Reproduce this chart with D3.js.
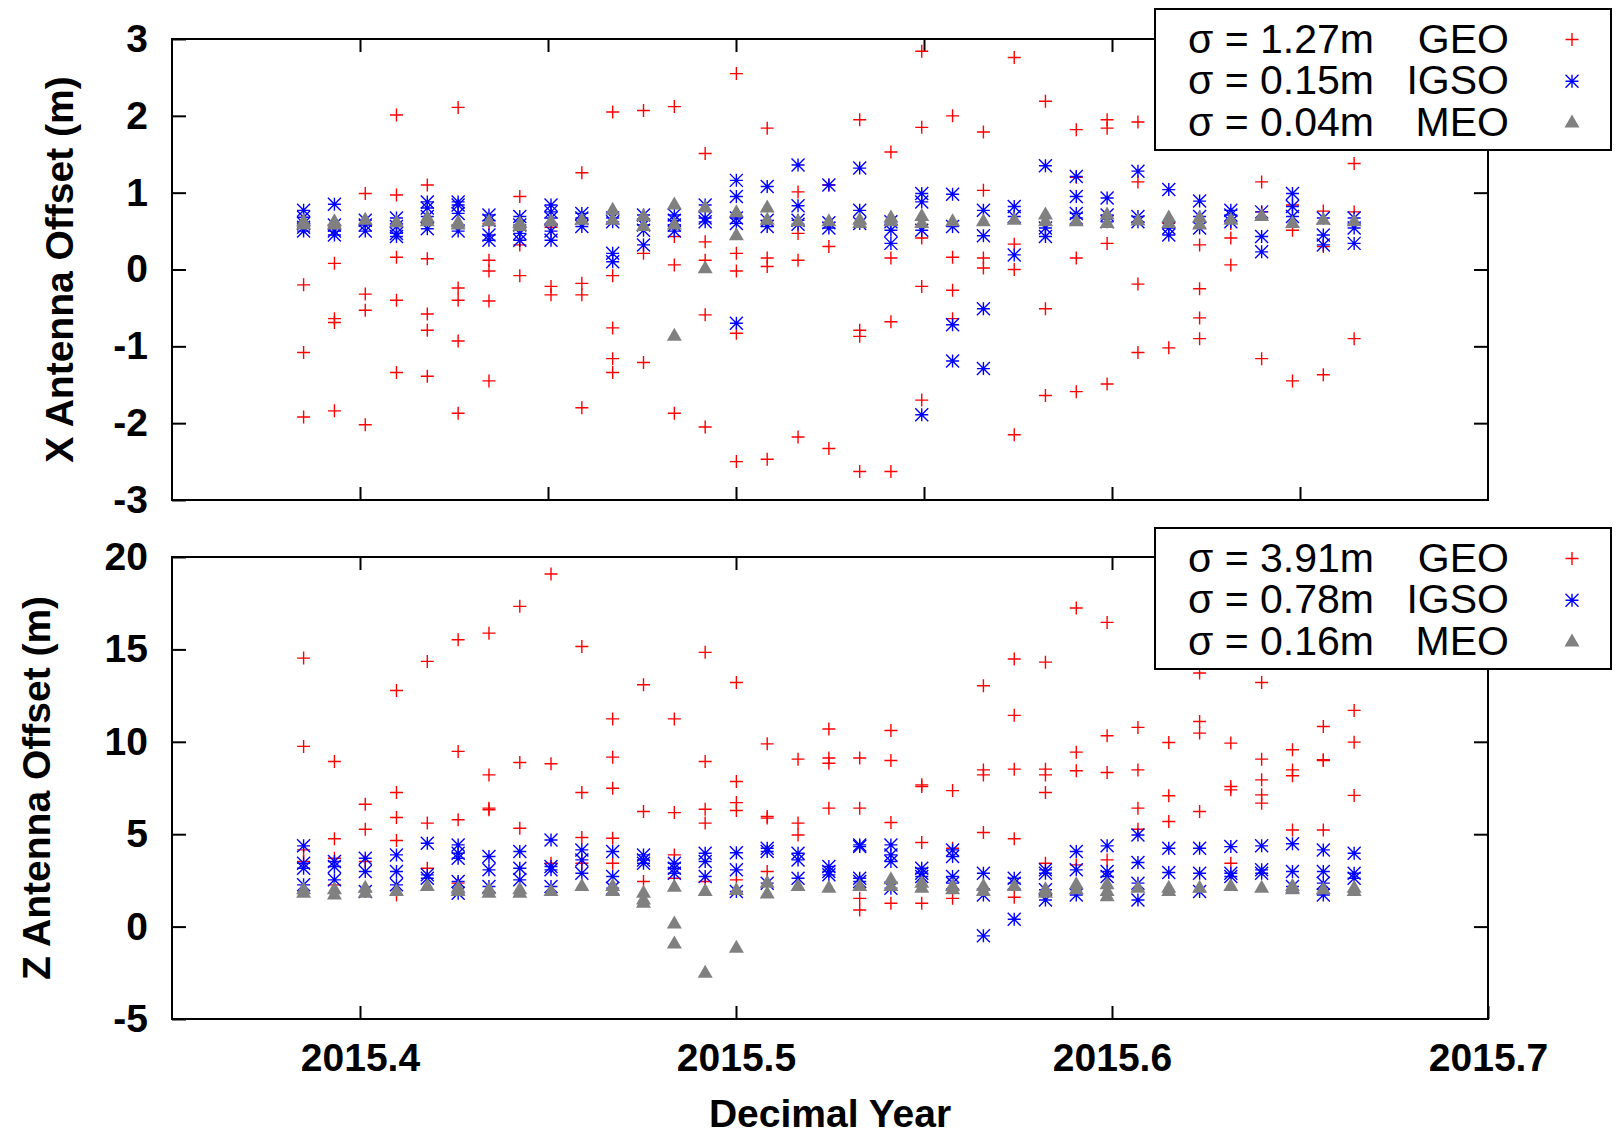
<!DOCTYPE html>
<html lang="en">
<head>
    <meta charset="utf-8">
    <title>Antenna offsets</title>
    <script src="https://d3js.org/d3.v7.js"></script>
    <style>
        body { margin: 0; background: #fff; }
        .tick text { font-family: "Liberation Sans", Arial, sans-serif; font-weight: bold; font-size: 39px; fill: #000; }
        .tick line { stroke: #000; stroke-width: 2px; }
        .title { font-family: "Liberation Sans", Arial, sans-serif; font-weight: bold; font-size: 39px; }
        .key text { font-family: "Liberation Sans", Arial, sans-serif; font-size: 41px; }
    </style>
</head>
<body>
<svg width="1618" height="1137"></svg>
<script type="text/javascript">
    // one column every 3 days
    let years = [2015.3850, 2015.3932, 2015.4014, 2015.4097, 2015.4179, 2015.4261, 2015.4343,
        2015.4425, 2015.4508, 2015.4590, 2015.4672, 2015.4754, 2015.4836, 2015.4918, 2015.5001,
        2015.5083, 2015.5165, 2015.5247, 2015.5329, 2015.5412, 2015.5494, 2015.5576, 2015.5658,
        2015.5740, 2015.5823, 2015.5905, 2015.5987, 2015.6069, 2015.6151, 2015.6233, 2015.6316,
        2015.6398, 2015.6480, 2015.6562, 2015.6644];

    // X offsets (m), one list per column
    let xGeo = [[0.60, -0.20, -1.08, -1.92], [0.55, 0.08, -0.64, -0.69, -1.84], [0.99, -0.32, -0.53, -2.02],
        [2.01, 0.97, 0.16, -0.40, -1.34], [1.10, 0.14, -0.58, -0.79, -1.39], [2.11, -0.24, -0.40, -0.93, -1.87],
        [0.60, 0.12, -0.02, -0.41, -1.45], [0.95, 0.55, 0.32, -0.08], [0.55, -0.22, -0.33],
        [1.26, -0.18, -0.33, -1.80], [2.05, -0.08, -0.76, -1.16, -1.34], [2.07, 0.21, -1.21],
        [2.12, 0.43, 0.06, -1.87], [1.51, 0.36, 0.12, -0.59, -2.05], [2.55, 0.21, -0.02, -0.83, -2.50],
        [1.84, 0.15, 0.04, -2.47], [1.01, 0.47, 0.12, -2.18], [1.10, 0.30, -2.33],
        [1.95, -0.79, -0.87, -2.63], [1.53, 0.15, -0.68, -2.63], [2.84, 1.85, 0.41, -0.22, -1.70],
        [2.00, 0.16, -0.27, -0.64], [1.79, 1.03, 0.15, 0.02], [2.76, 0.33, 0.00, -2.15],
        [2.19, -0.51, -1.64], [1.82, 1.20, 0.15, -1.59], [1.95, 1.84, 0.34, -1.49],
        [1.92, 1.14, -0.19, -1.08], [0.60, -1.02], [0.32, -0.25, -0.63, -0.90], [0.60, 0.41, 0.06],
        [1.14, 0.75, -1.16], [0.84, 0.51, -1.45], [0.76, 0.30, -1.37], [1.38, 0.75, -0.90]];

    let xIgso = [[0.77, 0.68, 0.60, 0.55, 0.50], [0.85, 0.58, 0.50, 0.45], [0.64, 0.58, 0.50],
        [0.67, 0.56, 0.47, 0.43], [0.88, 0.80, 0.69, 0.53], [0.88, 0.84, 0.73, 0.50],
        [0.71, 0.64, 0.45, 0.38], [0.69, 0.58, 0.47, 0.38], [0.84, 0.75, 0.67, 0.50, 0.38],
        [0.73, 0.67, 0.56], [0.21, 0.10, 0.67, 0.62], [0.71, 0.58, 0.51, 0.32], [0.71, 0.64, 0.58, 0.50],
        [0.84, 0.67, 0.62], [1.16, 0.95, 0.67, 0.60, -0.70], [1.08, 0.64, 0.56], [1.36, 0.83, 0.64, 0.59],
        [1.10, 0.61, 0.54], [1.32, 0.77, 0.60], [0.62, 0.51, 0.34], [0.99, 0.88, 0.51, -1.89],
        [0.98, 0.56, -0.72, -1.19], [0.77, 0.44, -0.51, -1.29], [0.82, 0.69, 0.19], [1.35, 0.54, 0.43],
        [1.21, 0.95, 0.73, 0.67], [0.93, 0.71, 0.62], [1.28, 0.69, 0.62], [1.04, 0.54, 0.45],
        [0.89, 0.69, 0.54], [0.77, 0.71, 0.62], [0.75, 0.43, 0.23], [0.99, 0.82, 0.69],
        [0.67, 0.45, 0.32], [0.67, 0.54, 0.34]];

    let xMeo = [[0.58, 0.62], [0.62, 0.58], [0.64], [0.61], [0.67, 0.62], [0.61, 0.58], [0.62],
        [0.60, 0.56], [0.62], [0.64], [0.77, 0.64], [0.69, 0.56], [0.84, 0.58, -0.87], [0.80, 0.01],
        [0.74, 0.44], [0.80, 0.64], [0.62], [0.62], [0.64, 0.60], [0.67, 0.62], [0.69, 0.60], [0.62],
        [0.62], [0.64], [0.71, 0.62], [0.62], [0.71, 0.60], [0.63], [0.67, 0.60], [0.67, 0.58],
        [0.64], [0.69], [0.60], [0.64], [0.62]];

    // Z offsets (m)
    let zGeo = [[14.53, 9.75, 4.15, 3.52], [8.93, 4.75, 3.70, 2.26], [6.62, 5.27, 3.52],
        [12.78, 7.26, 5.90, 4.66, 1.71], [14.35, 5.60, 3.16], [15.52, 9.48, 5.78, 2.35],
        [15.88, 8.21, 6.41, 6.32], [17.33, 8.88, 5.32], [19.08, 8.81, 3.43], [15.16, 7.26, 4.82, 3.43],
        [11.24, 9.17, 7.49, 4.78, 3.43], [13.09, 6.23, 2.44], [11.24, 6.17, 3.88, 2.62],
        [14.84, 8.93, 6.35, 5.60, 2.44], [13.21, 7.85, 6.71, 6.28, 2.53], [9.89, 5.96, 5.87, 2.98],
        [9.06, 5.60, 4.96], [10.69, 9.12, 8.84, 6.41], [9.12, 6.41, 1.53, 0.90], [10.61, 8.99, 5.63, 1.26],
        [7.67, 7.58, 4.55, 1.26], [7.36, 4.24, 1.53], [13.03, 8.48, 8.21, 5.09],
        [14.48, 11.43, 8.52, 4.75, 1.59], [14.31, 8.52, 8.21, 7.26, 3.43], [17.24, 9.44, 8.43, 3.34],
        [16.46, 10.33, 8.34, 3.61], [10.78, 8.48, 6.41, 5.27], [9.96, 7.08, 5.69],
        [13.72, 11.10, 10.47, 6.23], [9.93, 7.58, 7.40, 3.43], [13.21, 9.06, 7.94, 7.13, 6.68],
        [9.57, 8.48, 8.16, 5.23], [10.83, 9.03, 8.99, 5.23], [11.70, 9.98, 7.10]];

    let zIgso = [[4.37, 3.43, 3.16, 2.26], [3.52, 3.25, 2.53], [3.70, 2.98, 1.90], [3.88, 2.98, 2.26],
        [4.51, 2.80, 2.62], [4.42, 3.97, 3.70, 2.44, 1.81], [3.79, 3.07, 2.17], [4.06, 3.16, 2.53],
        [4.69, 3.25, 3.07, 2.17], [4.15, 3.61, 2.89], [4.06, 2.71, 2.08], [3.88, 3.61, 3.43],
        [3.43, 3.16, 2.89], [3.97, 3.52, 2.71], [4.00, 3.07, 1.90], [4.24, 4.06, 2.35],
        [3.97, 3.61, 2.62], [3.25, 2.98, 2.80], [4.42, 4.33, 2.62, 2.44], [4.42, 3.88, 3.52, 2.08],
        [3.16, 2.89, 2.71], [4.15, 3.79, 2.71, 2.35], [2.89, 1.71, -0.50], [2.62, 2.35, 0.40],
        [3.07, 2.89, 1.99, 1.44], [4.06, 3.07, 1.71], [4.37, 2.98, 2.71], [4.96, 3.47, 2.35, 1.44],
        [4.24, 2.93], [4.24, 2.89, 1.90], [4.33, 2.89, 2.71], [4.37, 3.07, 2.89], [4.48, 2.98, 2.17],
        [4.15, 2.98, 2.35, 1.71], [3.97, 2.89, 2.62]];

    let zMeo = [[1.99, 1.81], [1.99, 1.71], [2.08, 1.81], [1.90], [2.17], [2.08, 1.90], [1.99, 1.81],
        [1.99, 1.81], [1.90], [2.17], [2.17, 1.90], [1.81, 1.44, 1.26], [2.13, 0.14, -0.94],
        [1.90, -2.53], [1.95, -1.17], [2.35, 1.77], [2.17], [2.08], [2.17], [2.53, 2.17],
        [2.35, 2.08], [2.17, 1.99], [2.17, 1.90], [2.17], [1.99, 1.81], [2.26, 1.99],
        [2.26, 1.90, 1.62], [2.08], [2.08, 1.90], [2.08], [2.17], [2.08], [2.17, 1.99], [1.99],
        [2.08, 1.90]];

    let xSigma = ["1.27", "0.15", "0.04"];
    let zSigma = ["3.91", "0.78", "0.16"];
    let names = ["GEO", "IGSO", "MEO"];

    let svg = d3.select("svg");
    let left = 172, right = 1488;

    let x = d3.scaleLinear().domain([2015.35, 2015.7]).range([left, right]);

    // marker shapes, gnuplot style
    let markers = {
        GEO: {d: "M-6.5,0H6.5M0,-6.5V6.5", stroke: "#ff0000", fill: "none"},
        IGSO: {d: "M-6.5,0H6.5M0,-6.5V6.5M-6.5,-6.5L6.5,6.5M-6.5,6.5L6.5,-6.5", stroke: "#0000ff", fill: "none"},
        MEO: {d: "M0,-8.5L7.5,4.5L-7.5,4.5Z", stroke: "none", fill: "#808080"}
    };

    function flatten(cols) {
        let pts = [];
        cols.forEach(function (col, i) {
            col.forEach(function (v) { pts.push({t: years[i], v: v}); });
        });
        return pts;
    }

    function panel(cfg) {
        let y = d3.scaleLinear().domain(cfg.domain).range([cfg.bottom, cfg.top]);
        let g = svg.append("g");

        // ticks on all four sides, pointing inward; plain hyphen for negatives
        g.append("g").attr("transform", "translate(" + left + ",0)")
            .call(d3.axisLeft(y).tickValues(cfg.yticks).tickSize(-14).tickPadding(24)
                .tickFormat(d => String(d)))
            .call(a => a.select(".domain").remove());
        g.append("g").attr("transform", "translate(" + right + ",0)")
            .call(d3.axisRight(y).tickValues(cfg.yticks.slice(1, -1)).tickSize(-14).tickFormat(""))
            .call(a => a.select(".domain").remove());
        g.append("g").attr("transform", "translate(0," + cfg.top + ")")
            .call(d3.axisTop(x).tickValues(cfg.xticks).tickSize(-13).tickFormat(""))
            .call(a => a.select(".domain").remove());
        let bx = g.append("g").attr("transform", "translate(0," + cfg.bottom + ")")
            .call(d3.axisBottom(x).tickValues(cfg.xticks.concat(cfg.xlabels ? [2015.7] : []))
                .tickSize(-13).tickPadding(24)
                .tickFormat(cfg.xlabels ? d3.format(".1f") : ""))
            .call(a => a.select(".domain").remove());
        bx.selectAll(".tick text").attr("dy", "0.71em");

        g.append("rect")
            .attr("x", left).attr("y", cfg.top)
            .attr("width", right - left).attr("height", cfg.bottom - cfg.top)
            .attr("fill", "none").attr("stroke", "#000").attr("stroke-width", 2);

        // points: GEO first, then IGSO, MEO on top
        [["GEO", cfg.geo], ["IGSO", cfg.igso], ["MEO", cfg.meo]].forEach(function (s) {
            let m = markers[s[0]];
            g.append("g").selectAll("path")
                .data(flatten(s[1]))
                .join("path")
                .attr("transform", d => "translate(" + x(d.t) + "," + y(d.v) + ")")
                .attr("d", m.d)
                .attr("stroke", m.stroke)
                .attr("stroke-width", 1.4)
                .attr("fill", m.fill);
        });

        g.append("text").attr("class", "title")
            .attr("transform", "translate(" + cfg.titleX + "," + (cfg.top + cfg.bottom) / 2 + ") rotate(-90)")
            .attr("text-anchor", "middle")
            .text(cfg.title);

        // key box, opaque
        let key = g.append("g").attr("class", "key");
        key.append("rect")
            .attr("x", 1155).attr("y", cfg.keyTop)
            .attr("width", 456).attr("height", 141)
            .attr("fill", "#fff").attr("stroke", "#000").attr("stroke-width", 2);
        names.forEach(function (n, i) {
            let base = cfg.keyTop + 43.5 + i * 41.8;
            key.append("text").attr("x", 1188).attr("y", base)
                .text("σ = " + cfg.sigma[i] + "m");
            key.append("text").attr("x", 1509).attr("y", base)
                .attr("text-anchor", "end").text(n);
            let m = markers[n];
            key.append("path")
                .attr("transform", "translate(1572," + (base - 13) + ")")
                .attr("d", m.d).attr("stroke", m.stroke).attr("stroke-width", 1.4).attr("fill", m.fill);
        });
    }

    panel({
        top: 39, bottom: 500, domain: [-3, 3], yticks: [-3, -2, -1, 0, 1, 2, 3],
        xticks: [2015.4, 2015.45, 2015.5, 2015.55, 2015.6, 2015.65], xlabels: false,
        geo: xGeo, igso: xIgso, meo: xMeo, sigma: xSigma,
        title: "X Antenna Offset (m)", titleX: 73, keyTop: 9
    });

    panel({
        top: 557, bottom: 1019, domain: [-5, 20], yticks: [-5, 0, 5, 10, 15, 20],
        xticks: [2015.4, 2015.5, 2015.6], xlabels: true,
        geo: zGeo, igso: zIgso, meo: zMeo, sigma: zSigma,
        title: "Z Antenna Offset (m)", titleX: 50, keyTop: 528
    });

    svg.append("text").attr("class", "title")
        .attr("x", (left + right) / 2).attr("y", 1127)
        .attr("text-anchor", "middle")
        .text("Decimal Year");
</script>
</body>
</html>
